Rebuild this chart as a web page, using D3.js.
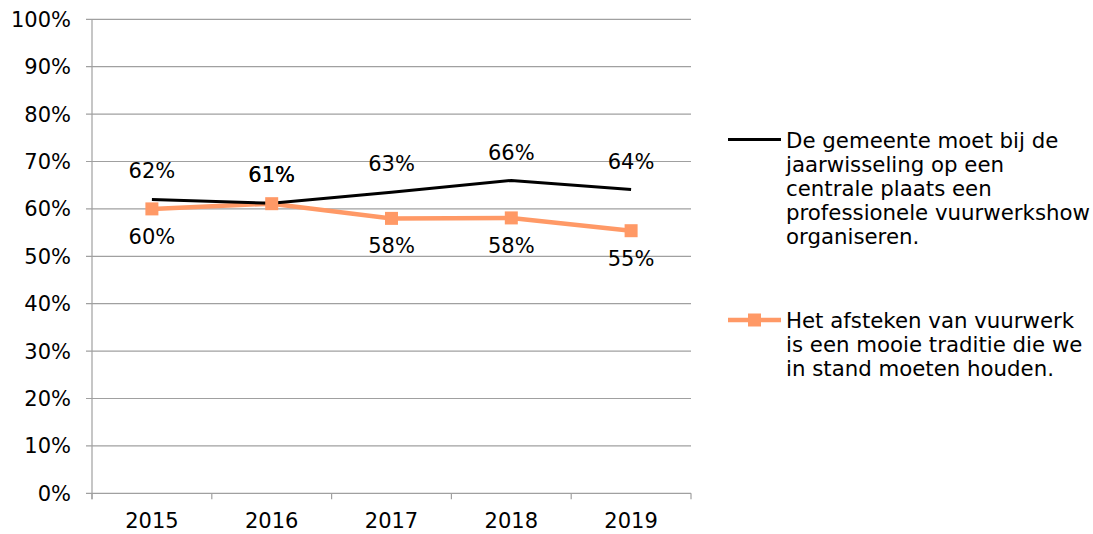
<!DOCTYPE html>
<html><head><meta charset="utf-8">
<script src="https://cdn.jsdelivr.net/npm/d3@7"></script>
<style>body{margin:0;background:#fff}text{font-family:"DejaVu Sans",Verdana,sans-serif;fill:#000}</style>
</head><body><svg id="c" width="1093" height="534"></svg>
<script>
const years = ["2015","2016","2017","2018","2019"];
const seriesA = [62.0, 61.2, 63.5, 66.0, 64.1]; // black
const seriesB = [60.0, 61.1, 58.0, 58.1, 55.4]; // orange
const labelsA = ["62%","61%","63%","66%","64%"];
const labelsB = ["60%","61%","58%","58%","55%"];
const labelBPos = ["below","above","below","below","below"];
const yTicks = [0,10,20,30,40,50,60,70,80,90,100];
const legendA = ["De gemeente moet bij de","jaarwisseling op een","centrale plaats een","professionele vuurwerkshow","organiseren."];
const legendB = ["Het afsteken van vuurwerk","is een mooie traditie die we","in stand moeten houden."];

const svg = d3.select("#c");
const L=92, R=691, T=19.3, B=493.3;
const fs = 21, fsL = 21.3;
const x = d3.scaleBand().domain(years).range([L,R]);
const y = d3.scaleLinear().domain([0,100]).range([B,T]);
const gray="#A0A0A0", orange="#FF9966";

// gridlines
svg.append("g").selectAll("line").data(yTicks).join("line")
  .attr("x1",L-6).attr("x2",R).attr("y1",d=>y(d)).attr("y2",d=>y(d))
  .attr("stroke",gray).attr("stroke-width",1.2);
// y axis line
svg.append("line").attr("x1",L).attr("x2",L).attr("y1",T).attr("y2",B+6).attr("stroke",gray).attr("stroke-width",1.2);
// x ticks at band boundaries
const bounds = years.map(d=>x(d)).concat([R]);
svg.append("g").selectAll("line").data(bounds).join("line")
  .attr("x1",d=>d).attr("x2",d=>d).attr("y1",B).attr("y2",B+6)
  .attr("stroke",gray).attr("stroke-width",1.2);
// y labels
svg.append("g").selectAll("text").data(yTicks).join("text")
  .attr("x",71).attr("y",d=>y(d)).attr("dy","0.36em").attr("text-anchor","end")
  .style("font-size",fs+"px").text(d=>d+"%");
// x labels
svg.append("g").selectAll("text").data(years).join("text")
  .attr("x",d=>x(d)+x.bandwidth()/2).attr("y",520.5).attr("dy","0.36em").attr("text-anchor","middle")
  .style("font-size",fs+"px").text(d=>d);

const cx = d=>x(d)+x.bandwidth()/2;
const line = d3.line().x((d,i)=>cx(years[i])).y(d=>y(d));
svg.append("path").datum(seriesB).attr("d",line).attr("fill","none").attr("stroke",orange).attr("stroke-width",4.5);
svg.append("path").datum(seriesA).attr("d",line).attr("fill","none").attr("stroke","#000").attr("stroke-width",3);
const ms=13;
svg.append("g").selectAll("rect").data(seriesB).join("rect")
  .attr("x",(d,i)=>cx(years[i])-ms/2).attr("y",d=>y(d)-ms/2).attr("width",ms).attr("height",ms).attr("fill",orange);

// data labels
svg.append("g").selectAll("text").data(seriesA).join("text")
  .attr("x",(d,i)=>cx(years[i])).attr("y",d=>y(d)-28.5).attr("dy","0.36em").attr("text-anchor","middle")
  .style("font-size",fs+"px").text((d,i)=>labelsA[i]);
svg.append("g").selectAll("text").data(seriesB).join("text")
  .attr("x",(d,i)=>cx(years[i]))
  .attr("y",(d,i)=>labelBPos[i]==="below"? y(d)+27.5 : y(seriesA[i])-28.5)
  .attr("dy","0.36em").attr("text-anchor","middle")
  .style("font-size",fs+"px").text((d,i)=>labelsB[i]);

// legend
const lh=24.2;
svg.append("line").attr("x1",728).attr("x2",781).attr("y1",139.5).attr("y2",139.5).attr("stroke","#000").attr("stroke-width",3);
svg.append("g").selectAll("text").data(legendA).join("text")
  .attr("x",786).attr("y",(d,i)=>140+i*lh).attr("dy","0.36em").style("font-size",fsL+"px").text(d=>d);
svg.append("line").attr("x1",728).attr("x2",781).attr("y1",320).attr("y2",320).attr("stroke",orange).attr("stroke-width",4.5);
svg.append("rect").attr("x",754.5-ms/2).attr("y",320-ms/2).attr("width",ms).attr("height",ms).attr("fill",orange);
svg.append("g").selectAll("text").data(legendB).join("text")
  .attr("x",786).attr("y",(d,i)=>320+i*lh).attr("dy","0.36em").style("font-size",fsL+"px").text(d=>d);
</script></body></html>
